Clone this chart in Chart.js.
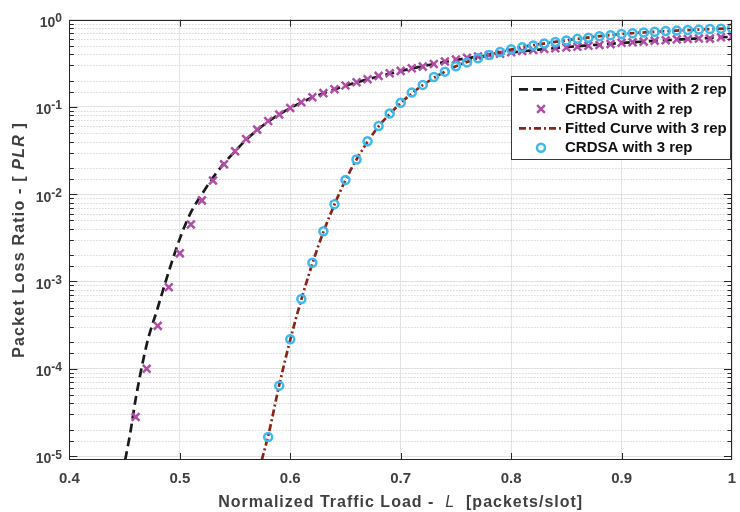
<!DOCTYPE html>
<html><head><meta charset="utf-8">
<script src="https://cdn.jsdelivr.net/npm/chart.js@4/dist/chart.umd.min.js"></script>
<style>html,body{margin:0;padding:0;background:#fff;}#wrap{width:740px;height:512px;}</style>
</head><body><div id="wrap"><canvas id="c" width="740" height="512"></canvas></div>
<script>
// ---------- data ----------
const xTickLabels = ['0.4','0.5','0.6','0.7','0.8','0.9','1'];
const yTickValues = [1, 1e-1, 1e-2, 1e-3, 1e-4, 1e-5];
const yTickExponents = ['0','-1','-2','-3','-4','-5'];

const crdsa2Load = [0.46,0.47,0.48,0.49,0.50,0.51,0.52,0.53,0.54,0.55,0.56,0.57,0.58,0.59,0.60,0.61,0.62,0.63,0.64,0.65,0.66,0.67,0.68,0.69,0.70,0.71,0.72,0.73,0.74,0.75,0.76,0.77,0.78,0.79,0.80,0.81,0.82,0.83,0.84,0.85,0.86,0.87,0.88,0.89,0.90,0.91,0.92,0.93,0.94,0.95,0.96,0.97,0.98,0.99,1.00];
const crdsa2PLR = [2.8e-5,1.0e-4,3.1e-4,8.6e-4,2.1e-3,4.5e-3,8.5e-3,1.44e-2,2.2e-2,3.1e-2,4.3e-2,5.5e-2,6.9e-2,8.2e-2,9.75e-2,0.113,0.129,0.144,0.160,0.176,0.192,0.208,0.227,0.243,0.259,0.277,0.290,0.311,0.331,0.350,0.367,0.379,0.395,0.407,0.424,0.437,0.450,0.462,0.471,0.480,0.491,0.502,0.513,0.525,0.545,0.551,0.561,0.574,0.583,0.595,0.601,0.609,0.607,0.629,0.639];

const crdsa3Load = [0.58,0.59,0.60,0.61,0.62,0.63,0.64,0.65,0.66,0.67,0.68,0.69,0.70,0.71,0.72,0.73,0.74,0.75,0.76,0.77,0.78,0.79,0.80,0.81,0.82,0.83,0.84,0.85,0.86,0.87,0.88,0.89,0.90,0.91,0.92,0.93,0.94,0.95,0.96,0.97,0.98,0.99,1.00];
const crdsa3PLR = [1.65e-5,6.4e-5,2.18e-4,6.3e-4,1.64e-3,3.77e-3,7.7e-3,1.46e-2,2.5e-2,4.05e-2,6.05e-2,8.4e-2,0.112,0.146,0.179,0.220,0.254,0.293,0.324,0.362,0.394,0.426,0.458,0.483,0.506,0.533,0.556,0.579,0.603,0.622,0.648,0.665,0.685,0.699,0.712,0.728,0.742,0.750,0.762,0.770,0.782,0.790,0.797];

const fit2Load = [0.4505,0.455,0.46,0.47,0.48,0.49,0.50,0.51,0.52,0.53,0.54,0.55,0.56,0.58,0.60,0.62,0.65,0.70,0.75,0.80,0.85,0.90,0.95,1.00];
const fit2PLR  = [9e-6,1.8e-5,4.5e-5,1.9e-4,5.0e-4,1.3e-3,3.1e-3,6.2e-3,1.0e-2,1.55e-2,2.25e-2,3.1e-2,4.2e-2,6.8e-2,9.7e-2,0.128,0.175,0.258,0.345,0.420,0.485,0.541,0.592,0.637];

const fit3Load = [0.5742,0.58,0.59,0.60,0.61,0.62,0.63,0.64,0.65,0.66,0.67,0.68,0.69,0.70,0.72,0.75,0.80,0.85,0.90,0.95,1.00];
const fit3PLR  = [9e-6,1.7e-5,6.5e-5,2.15e-4,6.2e-4,1.6e-3,3.7e-3,7.6e-3,1.45e-2,2.5e-2,4.0e-2,6.0e-2,8.3e-2,0.111,0.178,0.292,0.456,0.58,0.685,0.75,0.797];

const seriesNames = ['Fitted Curve with 2 rep','CRDSA with 2 rep','Fitted Curve with 3 rep','CRDSA with 3 rep'];
// ---------------------------------------------------

const pts = (xs, ys) => xs.map((x, i) => ({x: x, y: ys[i]}));
const AXIS = '#262626';
const TXT = '#404040';
const FONT = '"Liberation Sans", Arial, Helvetica, sans-serif';
const isDecade = v => Math.abs(Math.log10(v) - Math.round(Math.log10(v))) < 1e-6;

const minorGrid = {
  id: 'minorGrid',
  beforeDatasetsDraw(chart) {
    const ctx = chart.ctx, a = chart.chartArea, ys = chart.scales.y;
    ctx.save();
    ctx.strokeStyle = '#c4c4c4'; ctx.lineWidth = 1; ctx.setLineDash([1, 2]);
    ctx.beginPath();
    ys.ticks.forEach(t => {
      const v = t.value;
      if (v < ys.min || v > ys.max || isDecade(v)) return;
      const py = Math.round(ys.getPixelForValue(v)) + 0.5;
      if (py > a.bottom - 1) return;
      ctx.moveTo(a.left, py); ctx.lineTo(a.right, py);
    });
    ctx.stroke();
    ctx.restore();
  }
};

const decor = {
  id: 'decor',
  afterDraw(chart) {
    const ctx = chart.ctx, a = chart.chartArea, xs = chart.scales.x, ys = chart.scales.y;
    ctx.save();
    // box
    ctx.strokeStyle = AXIS; ctx.lineWidth = 1; ctx.setLineDash([]);
    ctx.strokeRect(Math.round(a.left) + 0.5, Math.round(a.top) + 0.5, Math.round(a.right - a.left) - 1, Math.round(a.bottom - a.top) - 1);
    // x ticks (inward, bottom & top)
    ctx.beginPath();
    xs.ticks.forEach(t => {
      const px = Math.round(xs.getPixelForValue(t.value)) + 0.5;
      if (px < a.left + 2 || px > a.right - 2) return;
      ctx.moveTo(px, a.bottom); ctx.lineTo(px, a.bottom - 7);
      ctx.moveTo(px, a.top); ctx.lineTo(px, a.top + 7);
    });
    // y ticks (major & minor, left & right)
    ys.ticks.forEach(t => {
      const v = t.value;
      if (v < ys.min || v > ys.max) return;
      const py = Math.round(ys.getPixelForValue(v)) + 0.5;
      if (py < a.top + 1 || py > a.bottom - 1) return;
      const len = isDecade(v) ? 8 : 4.5;
      ctx.moveTo(a.left, py); ctx.lineTo(a.left + len, py);
      ctx.moveTo(a.right, py); ctx.lineTo(a.right - len, py);
    });
    ctx.stroke();

    // y tick labels with superscript exponents
    ctx.fillStyle = TXT; ctx.textBaseline = 'alphabetic'; ctx.textAlign = 'left';
    yTickValues.forEach((v, i) => {
      const py = ys.getPixelForValue(v);
      ctx.font = 'bold 12px ' + FONT;
      const we = ctx.measureText(yTickExponents[i]).width;
      ctx.font = 'bold 14px ' + FONT;
      const wb = ctx.measureText('10').width;
      const right = 62;
      ctx.fillText('10', right - we - wb, py + 7.3);
      ctx.font = 'bold 12px ' + FONT;
      ctx.fillText(yTickExponents[i], right - we, py + 2.5);
    });

    function drawMixed(parts, cx, cy, spacing) {
      let total = 0;
      parts.forEach(p => { ctx.font = p.f; ctx.letterSpacing = spacing + 'px'; p.w = ctx.measureText(p.t).width; total += p.w; });
      let x = cx - total / 2;
      ctx.textBaseline = 'middle'; ctx.textAlign = 'left';
      parts.forEach(p => { ctx.font = p.f; ctx.letterSpacing = spacing + 'px'; ctx.fillText(p.t, x, cy); x += p.w; });
      ctx.letterSpacing = '0px';
    }
    ctx.fillStyle = TXT;
    drawMixed([
      {t: 'Normalized Traffic Load -  ', f: 'bold 16px ' + FONT},
      {t: 'L', f: 'italic 16px ' + FONT},
      {t: '  [packets/slot]', f: 'bold 16px ' + FONT}
    ], (a.left + a.right) / 2, 502.5, 1);
    ctx.save();
    ctx.translate(20, (a.top + a.bottom) / 2);
    ctx.rotate(-Math.PI / 2);
    drawMixed([
      {t: 'Packet Loss Ratio - [ ', f: 'bold 16px ' + FONT},
      {t: 'PLR', f: 'bold italic 16px ' + FONT},
      {t: ' ]', f: 'bold 16px ' + FONT}
    ], 0, 0, 1.2);
    ctx.restore();

    // legend
    const lx = 511.5, ly = 76.5, lw = 219, lh = 83;
    ctx.fillStyle = '#ffffff'; ctx.fillRect(lx, ly, lw, lh);
    ctx.strokeStyle = '#3a3a3a'; ctx.lineWidth = 1; ctx.setLineDash([]);
    ctx.strokeRect(lx, ly, lw, lh);
    const rows = [89.3, 109, 128.3, 147.7];
    chart.data.datasets.forEach((ds, i) => {
      const ry = rows[i];
      ctx.save();
      if (ds.showLine !== false) {
        ctx.strokeStyle = ds.borderColor; ctx.lineWidth = ds.borderWidth;
        ctx.setLineDash(ds.borderDash || []);
        ctx.beginPath(); ctx.moveTo(519, ry); ctx.lineTo(562, ry); ctx.stroke();
      } else {
        ctx.strokeStyle = ds.pointBorderColor; ctx.lineWidth = ds.pointBorderWidth;
        ctx.setLineDash([]);
        ctx.beginPath();
        if (ds.pointStyle === 'circle') { ctx.arc(541, ry, ds.pointRadius, 0, Math.PI * 2); }
        else { const r = ds.pointRadius * 0.7071; ctx.moveTo(541 - r, ry - r); ctx.lineTo(541 + r, ry + r); ctx.moveTo(541 + r, ry - r); ctx.lineTo(541 - r, ry + r); }
        ctx.stroke();
      }
      ctx.restore();
      ctx.fillStyle = '#111111'; ctx.font = 'bold 15px ' + FONT;
      ctx.textBaseline = 'middle'; ctx.textAlign = 'left';
      ctx.fillText(seriesNames[i], 565, ry + 0.5);
    });
    ctx.restore();
  }
};

new Chart(document.getElementById('c'), {
  type: 'line',
  data: {
    datasets: [
      {label: seriesNames[0], data: pts(fit2Load, fit2PLR), borderColor: '#1a1a1a', borderWidth: 2.7, borderDash: [9, 5], pointRadius: 0, fill: false, cubicInterpolationMode: 'monotone', order: 4},
      {label: seriesNames[1], data: pts(crdsa2Load, crdsa2PLR), showLine: false, pointStyle: 'crossRot', pointRadius: 5.5, pointBorderWidth: 2.5, pointBorderColor: '#B04DA6', pointBackgroundColor: 'rgba(0,0,0,0)', borderColor: '#B04DA6', order: 3},
      {label: seriesNames[2], data: pts(fit3Load, fit3PLR), borderColor: '#8A2417', borderWidth: 2.7, borderDash: [7, 3, 2, 3], pointRadius: 0, fill: false, cubicInterpolationMode: 'monotone', order: 2},
      {label: seriesNames[3], data: pts(crdsa3Load, crdsa3PLR), showLine: false, pointStyle: 'circle', pointRadius: 4, pointBorderWidth: 2.5, pointBorderColor: '#3DB9EC', pointBackgroundColor: 'rgba(0,0,0,0)', borderColor: '#3DB9EC', order: 1}
    ]
  },
  options: {
    responsive: false, animation: false, devicePixelRatio: 1,
    layout: {padding: {top: 19.7, right: 2.5, left: 0, bottom: 0}},
    plugins: {legend: {display: false}, tooltip: {enabled: false}},
    scales: {
      x: {
        type: 'linear', min: 0.4, max: 1.0,
        afterFit: s => { s.height = 52; s.paddingLeft = 0; s.paddingRight = 0; },
        ticks: {stepSize: 0.1, padding: 10, color: TXT, font: {family: FONT, size: 15, weight: 'bold'},
          callback: v => xTickLabels[Math.round((v - 0.4) * 10)], maxRotation: 0, autoSkip: false},
        grid: {color: '#e4e4e4', lineWidth: 1, drawTicks: false},
        border: {display: false}
      },
      y: {
        type: 'logarithmic', min: 9e-6, max: 1,
        afterFit: s => { s.width = 69.4; s.paddingTop = 0; s.paddingBottom = 0; },
        ticks: {display: false, autoSkip: false},
        grid: {drawTicks: false, lineWidth: 1,
          color: c => { const v = c.tick ? c.tick.value : 1; return (v >= 1e-5 * 0.99 && isDecade(v)) ? '#e2e2e2' : 'rgba(0,0,0,0)'; }},
        border: {display: false}
      }
    }
  },
  plugins: [minorGrid, decor]
});
</script></body></html>
